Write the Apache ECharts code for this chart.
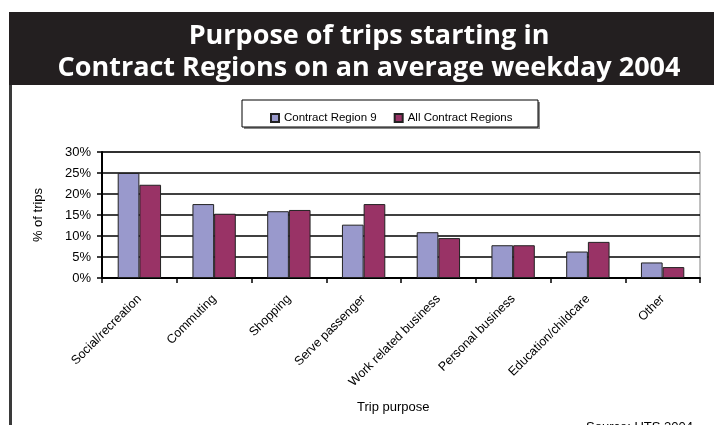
<!DOCTYPE html>
<html>
<head>
<meta charset="utf-8">
<script src="https://cdn.jsdelivr.net/npm/echarts@6/dist/echarts.min.js"></script>
<style>
html,body{margin:0;padding:0;background:#fff;}
#c{width:714px;height:425px;}
</style>
</head>
<body>
<div id="c"></div>
<script>
var categories = ['Social/recreation','Commuting','Shopping','Serve passenger','Work related business','Personal business','Education/childcare','Other'];
var region9 = [25.0, 17.6, 15.9, 12.7, 10.9, 7.8, 6.3, 3.7];
var allRegions = [22.2, 15.3, 16.2, 17.6, 9.5, 7.8, 8.6, 2.6];
var yTicks = [0, 5, 10, 15, 20, 25, 30];
var seriesNames = ['Contract Region 9', 'All Contract Regions'];

var FONT = '"Liberation Sans", Arial, sans-serif';
var chart = echarts.init(document.getElementById('c'), null, {renderer:'canvas'});
chart.setOption({
  animation: false,
  backgroundColor: '#fff',
  title: {
    text: 'Purpose of trips starting in\nContract Regions on an average weekday 2004',
    left: 364, textAlign: 'center', top: 15,
    textStyle: {color:'#fff', fontFamily:'"Open Sans", sans-serif', fontWeight:'bold', fontSize:27, lineHeight:32}
  },
  legend: {
    data: seriesNames,
    left: 265, top: 107,
    itemWidth: 8, itemHeight: 8, itemGap: 17,
    icon: 'rect',
    textStyle: {fontFamily: FONT, fontSize: 11.5, color:'#000'}
  },
  grid: {left:102, right:14, top:152, bottom:147, show:true, borderColor:'#808080', borderWidth:1},
  xAxis: {
    type:'category', data: categories,
    axisLine: {lineStyle:{color:'#000', width:2}},
    axisTick: {show:true, length:5, lineStyle:{color:'#000', width:1.5}},
    axisLabel: {rotate:45, interval:0, fontFamily:FONT, fontSize:12.5, color:'#000', margin:19}
  },
  yAxis: {
    type:'value', min: yTicks[0], max: yTicks[yTicks.length-1], interval:5,
    axisLine: {show:true, lineStyle:{color:'#000', width:2}},
    axisTick: {show:true, length:5, lineStyle:{color:'#000', width:1.5}},
    axisLabel: {formatter:'{value}%', fontFamily:FONT, fontSize:13, color:'#000', margin:11},
    splitLine: {lineStyle:{color:'#000', width:1.5}},
    name: '% of trips', nameLocation:'middle', nameGap:57, nameRotate:90,
    nameTextStyle: {fontFamily:FONT, fontSize:13, color:'#000'}
  },
  series: [
    {name: seriesNames[0], type:'bar', data: region9, barGap:'0%', barCategoryGap:'42%',
     itemStyle:{color:'#9999cc', borderColor:'#222', borderWidth:1}},
    {name: seriesNames[1], type:'bar', data: allRegions,
     itemStyle:{color:'#993366', borderColor:'#222', borderWidth:1}}
  ],
  graphic: [
    {type:'rect', z:-1, shape:{x:9, y:12, width:705, height:73}, style:{fill:'#231f20'}},
    {type:'rect', shape:{x:9, y:85, width:3, height:340}, style:{fill:'#3a3a3a'}},
    {type:'rect', shape:{x:244, y:102, width:296, height:27}, style:{fill:'#888'}},
    {type:'rect', shape:{x:242, y:100, width:296, height:27}, style:{fill:'#fff', stroke:'#000', lineWidth:1}},
    {type:'text', left:357, top:401, style:{text:'Trip purpose', font:'13px "Liberation Sans", Arial', fill:'#000'}},
    {type:'text', left:586, top:421, style:{text:'Source: UTS 2004', font:'13px "Liberation Sans", Arial', fill:'#000'}}
  ]
});
</script>
</body>
</html>
